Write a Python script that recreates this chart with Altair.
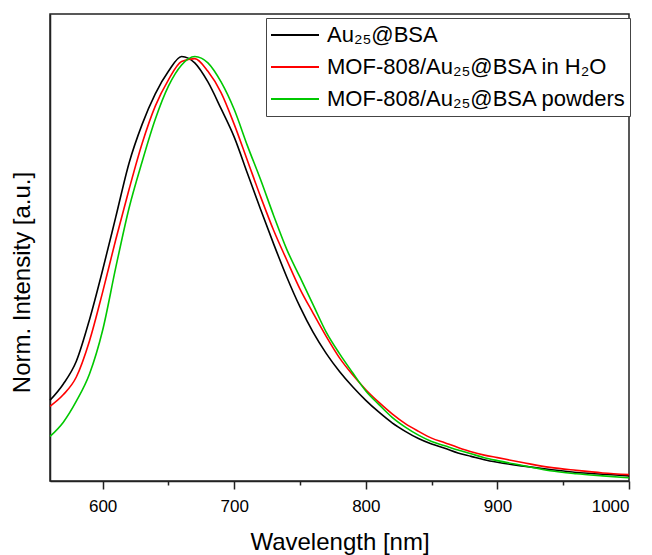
import altair as alt
import pandas as pd

# ---- data ----
wl_black = [560, 570, 580, 590, 600, 610, 620, 630, 640, 650, 660, 670, 680, 690, 700,
            710, 720, 730, 740, 750, 760, 770, 780, 790, 800, 810, 820, 830, 840, 850,
            860, 870, 880, 890, 900, 920, 940, 960, 980, 1000]
int_black = [0.190, 0.228, 0.282, 0.380, 0.497, 0.622, 0.748, 0.840, 0.912, 0.965, 1.000,
             0.985, 0.940, 0.877, 0.810, 0.725, 0.640, 0.558, 0.480, 0.410, 0.350, 0.300,
             0.258, 0.222, 0.190, 0.162, 0.137, 0.117, 0.100, 0.087, 0.077, 0.066, 0.058,
             0.050, 0.044, 0.035, 0.027, 0.020, 0.016, 0.012]

wl_red = [560, 570, 580, 590, 600, 610, 620, 630, 640, 650, 660, 670, 680, 690, 700,
          710, 720, 730, 740, 750, 760, 770, 780, 790, 800, 810, 820, 830, 840, 850,
          860, 870, 880, 890, 900, 920, 940, 960, 980, 1000]
int_red = [0.176, 0.203, 0.245, 0.330, 0.445, 0.569, 0.686, 0.795, 0.883, 0.945, 0.988,
           0.995, 0.965, 0.915, 0.840, 0.755, 0.670, 0.590, 0.520, 0.452, 0.395, 0.340,
           0.290, 0.250, 0.215, 0.185, 0.158, 0.135, 0.117, 0.101, 0.090, 0.079, 0.069,
           0.061, 0.055, 0.043, 0.032, 0.025, 0.019, 0.015]

wl_green = [560, 570, 580, 590, 600, 610, 620, 630, 640, 650, 660, 670, 680, 690, 700,
            710, 720, 730, 740, 750, 760, 770, 780, 790, 800, 810, 820, 830, 840, 850,
            860, 870, 880, 890, 900, 920, 940, 960, 980, 1000]
int_green = [0.105, 0.138, 0.188, 0.252, 0.355, 0.503, 0.642, 0.752, 0.852, 0.930, 0.980,
             1.000, 0.985, 0.940, 0.875, 0.790, 0.710, 0.625, 0.545, 0.480, 0.415, 0.350,
             0.300, 0.255, 0.212, 0.180, 0.150, 0.127, 0.108, 0.093, 0.083, 0.073, 0.064,
             0.055, 0.048, 0.036, 0.024, 0.017, 0.012, 0.0075]

series_names = ["Au₂₅@BSA", "MOF-808/Au₂₅@BSA in H₂O", "MOF-808/Au₂₅@BSA powders"]
series_colors = ["#000000", "#ff0000", "#00c800"]
tick_values = [600, 650, 700, 750, 800, 850, 900, 950, 1000]

rows = []
for name, xs, ys in zip(series_names,
                        [wl_black, wl_red, wl_green],
                        [int_black, int_red, int_green]):
    for i, (x, y) in enumerate(zip(xs, ys)):
        rows.append({"series": name, "wl": x, "val": y, "order": i})
df = pd.DataFrame(rows)

FONT = "Liberation Sans"
x_domain = [560, 1000]
yscale = alt.Scale(domain=[0, 1.1], nice=False, zero=True)

lines = alt.Chart(df).mark_line(strokeWidth=1.6, interpolate="monotone").encode(
    x=alt.X("wl:Q", scale=alt.Scale(domain=x_domain, nice=False, zero=False),
            axis=alt.Axis(values=tick_values, format="d",
                          labelExpr="datum.value % 100 == 0 ? datum.label : ''",
                          title="Wavelength [nm]", grid=False, orient="bottom",
                          tickSize={"condition": {"test": "datum.value % 100 != 0", "value": 4},
                                    "value": 8},
                          tickWidth=1.5, tickColor="#222", domainColor="#222",
                          domainWidth=1.5, labelFontSize=17, labelFont=FONT,
                          labelColor="#000", labelPadding=9, titleFont=FONT,
                          titleFontSize=24, titleFontWeight="normal", titleColor="#000",
                          titleBaseline="alphabetic", titleY=68)),
    y=alt.Y("val:Q", scale=yscale,
            axis=alt.Axis(labels=False, ticks=False, grid=False, title="Norm. Intensity [a.u.]",
                          domainColor="#222", domainWidth=1.5, titleFont=FONT,
                          titleFontSize=24, titleFontWeight="normal", titleColor="#000",
                          titleBaseline="alphabetic", titleX=-21, titleY=268,
                          titleAlign="center")),
    color=alt.Color("series:N",
                    scale=alt.Scale(domain=series_names, range=series_colors),
                    legend=alt.Legend(title=None, orient="none", legendX=216, legendY=4,
                                      symbolType="stroke", symbolSize=2304,
                                      symbolStrokeWidth=2, labelFont=FONT,
                                      labelFontSize=22, labelColor="#000",
                                      labelOffset=7, rowPadding=6, padding=4,
                                      clipHeight=26,
                                      strokeColor="#444", fillColor="white",
                                      labelLimit=400)),
    order="order:Q",
    detail="series:N",
)

chart = lines.properties(
    width=579, height=467,
    padding={"left": 42, "top": 6, "right": 15, "bottom": 74},
    autosize=alt.AutoSizeParams(type="none"),
).configure_view(stroke="#222", strokeWidth=1.5)

chart.save("out.html", embed_options={"renderer": "svg", "actions": False})
